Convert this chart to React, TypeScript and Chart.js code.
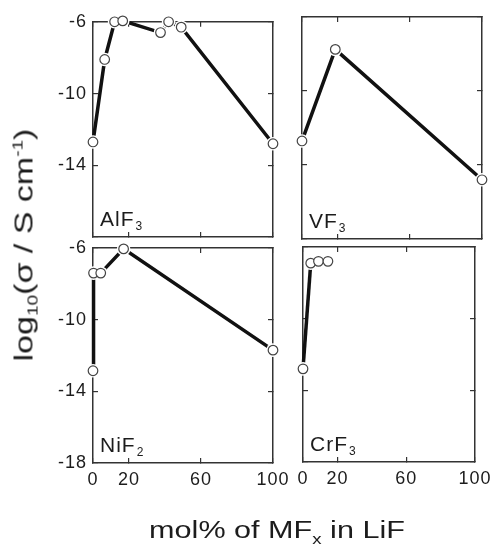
import React, { useEffect, useRef } from "react";
import { Chart, registerables } from "chart.js";

Chart.register(...registerables);

// ---------- data ----------
const X_TICKS = [0, 20, 60, 100];
const Y_TICKS = [-6, -10, -14, -18];
const X_MIN = 0;
const X_MAX = 100;
const Y_MIN = -18;
const Y_MAX = -6;

const ALF3_X = [0, 6.5, 12, 16.5, 37.5, 42, 49, 100];
const ALF3_Y = [-12.7, -8.1, -6.0, -5.95, -6.6, -6.0, -6.3, -12.8];

const VF3_X = [0, 18.5, 100];
const VF3_Y = [-12.7, -7.75, -14.8];

const NIF2_X = [0, 0.3, 4.3, 17, 100];
const NIF2_Y = [-12.85, -7.4, -7.4, -6.05, -11.7];

const CRF3_X = [0, 4.5, 9, 14.5];
const CRF3_Y = [-12.8, -6.9, -6.8, -6.8];
const CRF3_JOINED = 2; // only the first two points are joined by a line

// ---------- layout ----------
const W = 501;
const H = 547;
const FONT = '"Liberation Sans", Arial, Helvetica, sans-serif';
const INK = "#1c1c1c";
const FRAME = "#333333";
const Y_AXIS_W = 50;
const X_AXIS_H = 34;

type PanelCfg = {
  name: string;
  sub: string;
  xs: number[];
  ys: number[];
  joined: number;
  rect: { l: number; t: number; r: number; b: number };
  yLabels: boolean;
  xLabels: boolean;
  hideBottomY: boolean;
};

const PANELS: PanelCfg[] = [
  { name: "AlF", sub: "3", xs: ALF3_X, ys: ALF3_Y, joined: ALF3_X.length, rect: { l: 93, t: 18, r: 273, b: 237 }, yLabels: true, xLabels: false, hideBottomY: true },
  { name: "VF", sub: "3", xs: VF3_X, ys: VF3_Y, joined: VF3_X.length, rect: { l: 302, t: 17, r: 482, b: 239 }, yLabels: false, xLabels: false, hideBottomY: true },
  { name: "NiF", sub: "2", xs: NIF2_X, ys: NIF2_Y, joined: NIF2_X.length, rect: { l: 93, t: 248, r: 273, b: 463 }, yLabels: true, xLabels: true, hideBottomY: false },
  { name: "CrF", sub: "3", xs: CRF3_X, ys: CRF3_Y, joined: CRF3_JOINED, rect: { l: 303, t: 247, r: 481, b: 462 }, yLabels: false, xLabels: true, hideBottomY: false },
];

const panelLabelPlugin = {
  id: "panelLabel",
  beforeDraw(chart: any) {
    chart.ctx.letterSpacing = "1px";
  },
  afterDatasetsDraw(chart: any, _args: any, opts: any) {
    const { ctx, chartArea } = chart;
    ctx.save();
    ctx.letterSpacing = "1px";
    ctx.fillStyle = INK;
    ctx.textBaseline = "alphabetic";
    ctx.textAlign = "left";
    ctx.font = `21px ${FONT}`;
    const x = chartArea.left + 7;
    const y = chartArea.bottom - 11;
    ctx.fillText(opts.text, x, y);
    const w = ctx.measureText(opts.text).width;
    ctx.font = `12px ${FONT}`;
    ctx.fillText(opts.sub, x + w + 1, y + 4);
    ctx.restore();
  },
};

function makeAxis(position: string, min: number, max: number, ticks: number[], show: boolean, size: number, cb?: (v: number) => string) {
  return {
    type: "linear",
    position,
    min,
    max,
    afterBuildTicks: (s: any) => {
      s.ticks = ticks.map((v) => ({ value: v }));
    },
    afterFit: (s: any) => {
      if (s.isHorizontal()) s.height = size;
      else s.width = size;
    },
    grid: { drawOnChartArea: false, drawTicks: true, tickLength: -5, color: FRAME, lineWidth: 1.2 },
    border: { display: true, color: FRAME, width: 1.5 },
    ticks: {
      display: show,
      padding: 11,
      autoSkip: false,
      maxRotation: 0,
      minRotation: 0,
      color: INK,
      font: { family: FONT, size: 18 },
      callback: cb || ((v: any) => String(v)),
    },
  };
}

function Panel({ cfg }: { cfg: PanelCfg }) {
  const ref = useRef<HTMLCanvasElement>(null);
  useEffect(() => {
    if (!ref.current) return;
    const pts = cfg.xs.map((x, i) => ({ x, y: cfg.ys[i] }));
    const linePts = pts.slice(0, cfg.joined);
    const r = cfg.rect;
    const yW = cfg.yLabels ? Y_AXIS_W : 0;
    const xH = cfg.xLabels ? X_AXIS_H : 0;
    const chart = new Chart(ref.current, {
      type: "line",
      data: {
        datasets: [
          {
            data: pts,
            showLine: false,
            pointRadius: 4.8,
            pointBackgroundColor: "#ffffff",
            pointBorderColor: "#444444",
            pointBorderWidth: 1.2,
            clip: false,
            order: 1,
          },
          {
            data: pts,
            showLine: false,
            pointRadius: 6.8,
            pointBackgroundColor: "#ffffff",
            pointBorderColor: "#ffffff",
            pointBorderWidth: 0,
            clip: false,
            order: 2,
          },
          {
            data: linePts,
            showLine: true,
            borderColor: "#111111",
            borderWidth: 3.5,
            pointRadius: 0,
            tension: 0,
            clip: false,
            order: 3,
          },
        ],
      } as any,
      options: {
        responsive: false,
        animation: false,
        events: [],
        layout: { padding: { left: r.l - yW, top: r.t, right: W - r.r, bottom: H - r.b - xH } },
        plugins: {
          legend: { display: false },
          tooltip: { enabled: false },
          panelLabel: { text: cfg.name, sub: cfg.sub },
        } as any,
        scales: {
          x: makeAxis("bottom", X_MIN, X_MAX, X_TICKS, cfg.xLabels, xH),
          x2: makeAxis("top", X_MIN, X_MAX, X_TICKS, false, 0),
          y: makeAxis("left", Y_MIN, Y_MAX, Y_TICKS, cfg.yLabels, yW, (v: number) =>
            cfg.hideBottomY && v === Y_MIN ? "" : String(v)
          ),
          y2: makeAxis("right", Y_MIN, Y_MAX, Y_TICKS, false, 0),
        } as any,
      },
      plugins: [panelLabelPlugin],
    });
    return () => chart.destroy();
  }, [cfg]);
  return (
    <canvas
      ref={ref}
      width={W}
      height={H}
      style={{ position: "absolute", left: 0, top: 0, width: W, height: H }}
    />
  );
}

export default function App() {
  const small: React.CSSProperties = { fontSize: 14, verticalAlign: "baseline", position: "relative" };
  return (
    <div style={{ position: "absolute", left: 0, top: 0, width: W, height: H, background: "#fff", overflow: "hidden" }}>
      {PANELS.map((p) => (
        <Panel key={p.name + p.sub} cfg={p} />
      ))}
      <div
        style={{
          position: "absolute",
          left: 24,
          top: 245,
          transform: "translate(-50%, -50%) rotate(-90deg) scaleX(1.36)",
          fontFamily: FONT,
          fontSize: 25,
          lineHeight: 1,
          whiteSpace: "nowrap",
          color: INK,
        }}
      >
        log<span style={{ ...small, top: 5 }}>10</span>(σ / S cm<span style={{ ...small, top: -10 }}>-1</span>)
      </div>
      <div
        style={{
          position: "absolute",
          left: 277,
          top: 530,
          transform: "translate(-50%, -50%) scaleX(1.33)",
          fontFamily: FONT,
          fontSize: 23,
          lineHeight: 1,
          whiteSpace: "nowrap",
          color: INK,
        }}
      >
        mol% of MF<span style={{ ...small, top: 6 }}>x</span> in LiF
      </div>
    </div>
  );
}
